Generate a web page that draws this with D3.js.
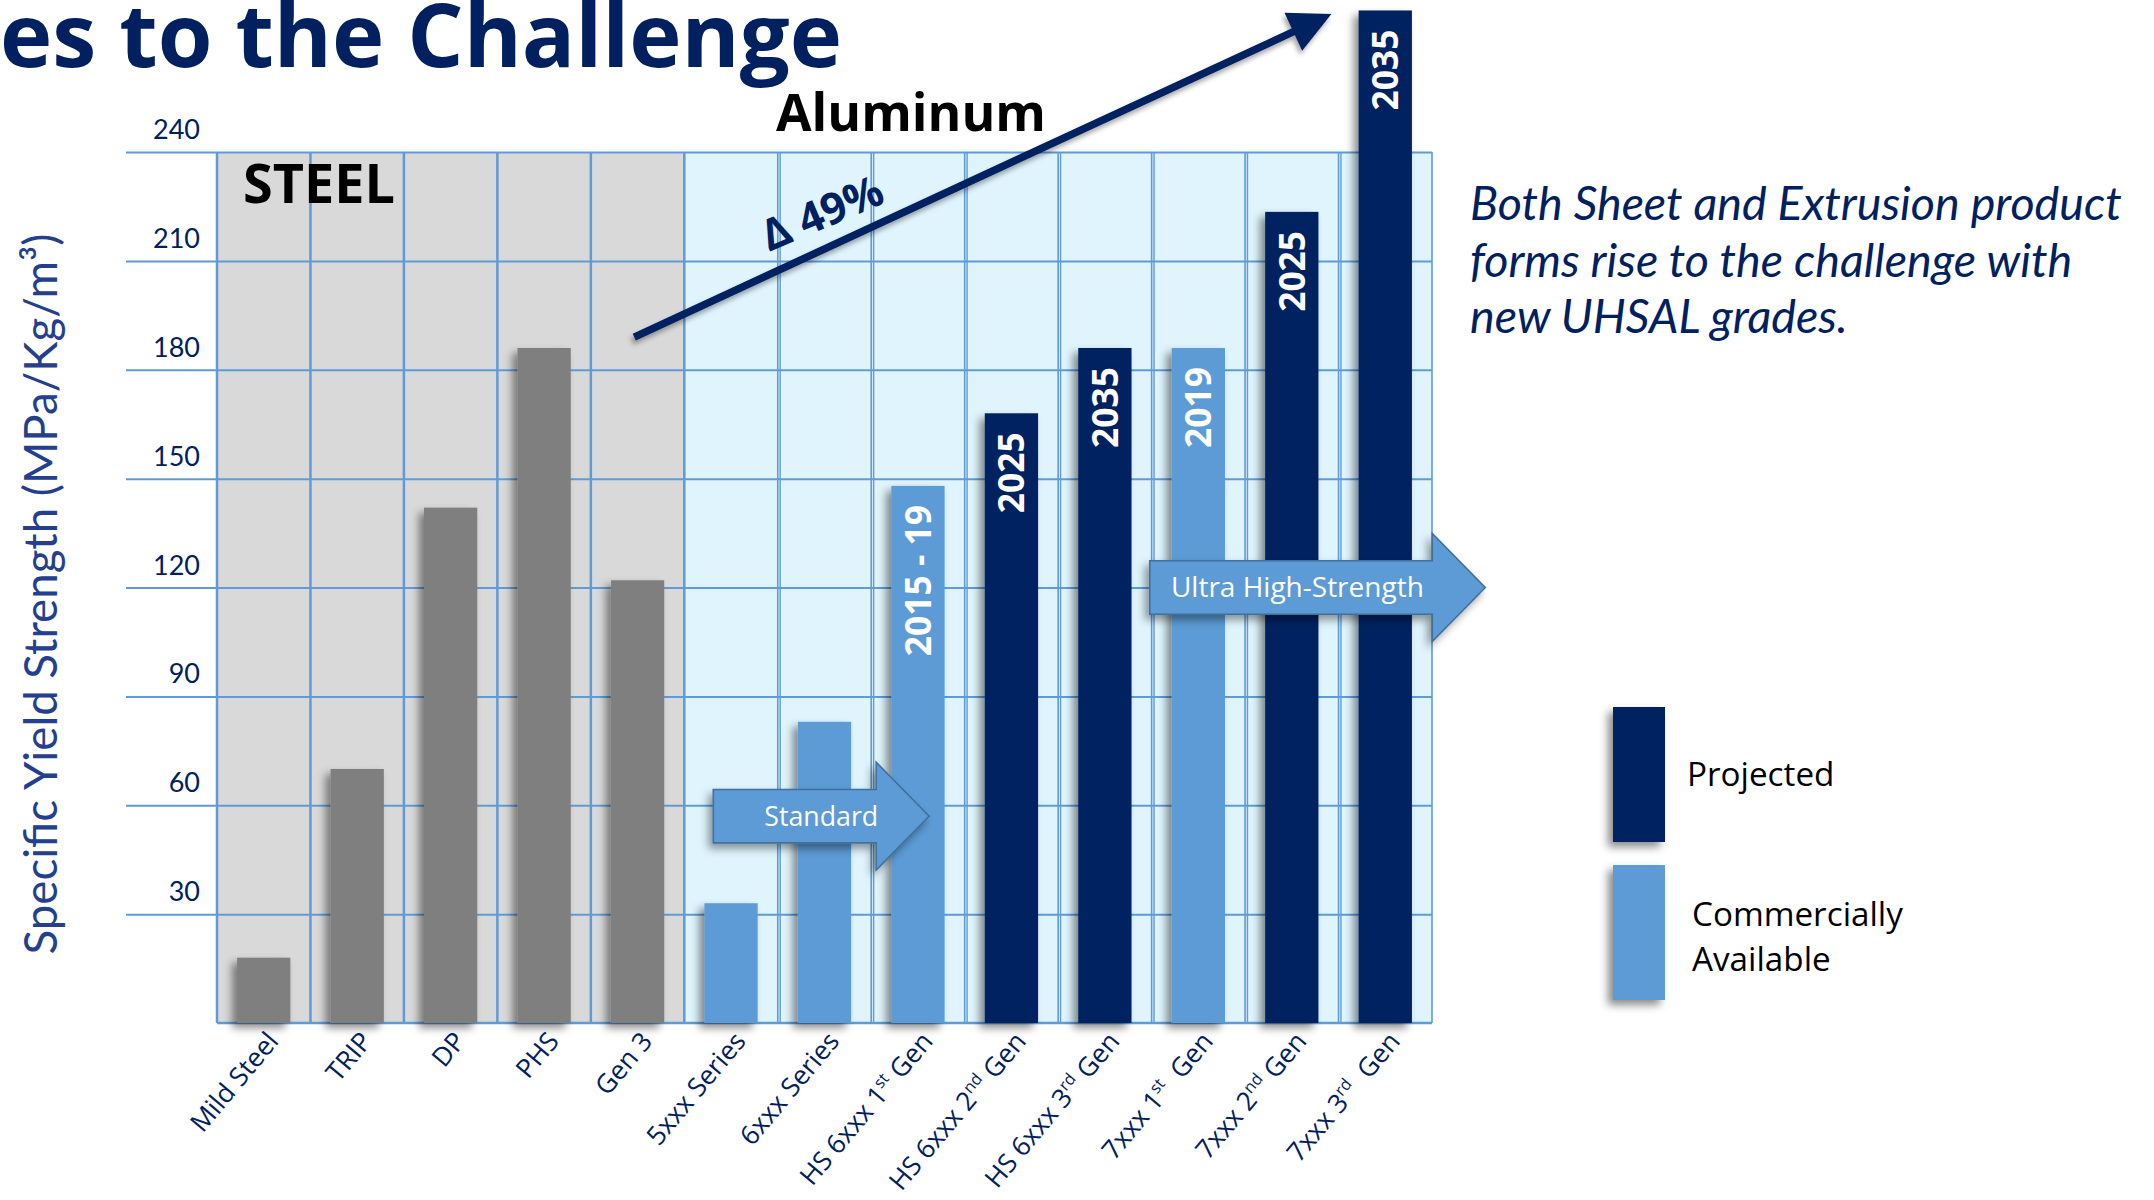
<!DOCTYPE html>
<html>
<head>
<meta charset="utf-8">
<script src="https://cdn.jsdelivr.net/npm/d3@7"></script>
<style>
  html, body { margin: 0; padding: 0; background: #ffffff; }
  svg { display: block; }
  text { white-space: pre; }
</style>
</head>
<body>
<svg id="chart" width="2154" height="1200"></svg>
<script>
// ---- data ----
const categories = [
  "Mild Steel", "TRIP", "DP", "PHS", "Gen 3",
  "5xxx Series", "6xxx Series",
  "HS 6xxx 1{st} Gen", "HS 6xxx 2{nd} Gen", "HS 6xxx 3{rd} Gen",
  "7xxx 1{st}  Gen", "7xxx 2{nd} Gen", "7xxx 3{rd}  Gen"
];
const values = [18, 70, 142, 186, 122, 33, 83, 148, 168, 186, 186, 223.5, 279];
const status = [
  "steel", "steel", "steel", "steel", "steel",
  "available", "available", "available", "projected", "projected",
  "available", "projected", "projected"
];
const periodLabels = ["", "", "", "", "", "", "", "2015 - 19", "2025", "2035", "2019", "2025", "2035"];
const yTicks = [0, 30, 60, 90, 120, 150, 180, 210, 240];
const legendItems = [
  { key: "projected", lines: ["Projected"] },
  { key: "available", lines: ["Commercially", "Available"] }
];
const noteLines = [
  "Both Sheet and Extrusion product",
  "forms rise to the challenge with",
  "new UHSAL grades."
];
const steelCount = 5;

// ---- styles ----
const colors = { steel: "#7f7f7f", available: "#5b9bd5", projected: "#002060" };
const navy = "#002060";
const gridColor = "#5f9bd6";

const svg = d3.select("#chart");
const defs = svg.append("defs");
function addShadow(id, dx, dy, sd, op) {
  const f = defs.append("filter").attr("id", id)
    .attr("x", "-60%").attr("y", "-30%").attr("width", "220%").attr("height", "160%");
  f.append("feDropShadow").attr("dx", dx).attr("dy", dy)
    .attr("stdDeviation", sd).attr("flood-color", "#000").attr("flood-opacity", op);
}
addShadow("barShadow", -5, 5, 4, 0.45);
addShadow("arrowShadow", -4, 5, 4, 0.4);
addShadow("lineShadow", -2, 4, 2.5, 0.35);

function fitWidth(sel, target) {
  const fs = parseFloat(sel.attr("font-size"));
  const len = sel.node().getComputedTextLength();
  const nfs = fs * target / len;
  sel.attr("font-size", nfs.toFixed(2));
  return nfs;
}
function measuredSize(str, family, weight, target, style) {
  const t = svg.append("text").attr("font-family", family).attr("font-weight", weight)
    .attr("font-style", style || "normal").attr("font-size", 40).text(str);
  const len = t.node().getComputedTextLength();
  t.remove();
  return 40 * target / len;
}

// ---- scales ----
const x = d3.scaleBand().domain(categories).range([217, 1432])
  .paddingInner(0.43).paddingOuter(0.215);
const y = d3.scaleLinear().domain([0, 240]).range([1023, 152]);
const step = x.step();
const x0 = x.range()[0];
const edges = d3.range(categories.length + 1).map(k => x0 + k * step);
const xEnd = edges[edges.length - 1];

// ---- plot backgrounds ----
svg.append("rect")
  .attr("x", edges[0]).attr("y", y(240))
  .attr("width", edges[steelCount] - edges[0]).attr("height", y(0) - y(240))
  .attr("fill", "#d9d9d9");
svg.append("rect")
  .attr("x", edges[steelCount]).attr("y", y(240))
  .attr("width", xEnd - edges[steelCount]).attr("height", y(0) - y(240))
  .attr("fill", "#dff4fd");

// ---- horizontal grid + tick labels (axis) ----
const axisLeftX = 126;
const yAxis = d3.axisLeft(y).tickValues(yTicks.filter(t => t > 0))
  .tickSize(-(xEnd - axisLeftX)).tickPadding(-74);
const gy = svg.append("g").attr("transform", `translate(${axisLeftX},0)`).call(yAxis);
gy.select(".domain").remove();
gy.selectAll(".tick line").attr("stroke", gridColor).attr("stroke-width", 2);
gy.selectAll(".tick text")
  .attr("fill", navy).attr("font-family", "Lato, 'Open Sans', sans-serif")
  .attr("font-size", 27).attr("dy", "-0.5em");
// baseline of the plot
svg.append("line")
  .attr("x1", edges[0]).attr("x2", xEnd).attr("y1", y(0)).attr("y2", y(0))
  .attr("stroke", gridColor).attr("stroke-width", 2.5);

// ---- vertical grid ----
svg.append("g").selectAll("line").data(edges).join("line")
  .attr("x1", d => d).attr("x2", d => d)
  .attr("y1", y(240)).attr("y2", y(0))
  .attr("stroke", gridColor)
  .attr("stroke-width", (d, i) => i <= steelCount ? 2.5 : 1.6);
// aluminum panel carries a second, slightly offset column grid
svg.append("g").selectAll("line").data(edges.slice(steelCount + 1, edges.length - 1)).join("line")
  .attr("x1", d => d + 2.4).attr("x2", d => d + 2.4)
  .attr("y1", y(240)).attr("y2", y(0))
  .attr("stroke", gridColor).attr("stroke-width", 1.4);

// ---- bars ----
const rows = categories.map((c, i) => ({ c, v: values[i], s: status[i], lab: periodLabels[i] }));
svg.append("g").selectAll("rect").data(rows).join("rect")
  .attr("x", d => x(d.c)).attr("width", x.bandwidth())
  .attr("y", d => y(d.v)).attr("height", d => y(0) - y(d.v))
  .attr("fill", d => colors[d.s])
  .attr("filter", "url(#barShadow)");

// period labels inside bars
const periodSize = measuredSize("2025", "'Open Sans', sans-serif", 700, 81);
svg.append("g").selectAll("text").data(rows.filter(d => d.lab)).join("text")
  .attr("transform", d => `translate(${x(d.c) + x.bandwidth() / 2},${y(d.v) + 19}) rotate(-90)`)
  .attr("text-anchor", "end").attr("dy", "0.36em")
  .attr("fill", "#ffffff").attr("font-family", "'Open Sans', sans-serif")
  .attr("font-weight", 700).attr("font-size", periodSize)
  .text(d => d.lab);

// ---- category labels ----
const catSize = measuredSize("Mild Steel", "'Open Sans', sans-serif", 400, 120);
const catG = svg.append("g");
rows.forEach(d => {
  const t = catG.append("text")
    .attr("transform", `translate(${x(d.c) + x.bandwidth() / 2 + 9},1036) rotate(-50)`)
    .attr("text-anchor", "end").attr("dy", "0.35em")
    .attr("fill", navy).attr("font-family", "'Open Sans', sans-serif")
    .attr("font-size", catSize);
  const parts = d.c.split(/\{|\}/);
  const shift = catSize * 0.38;
  parts.forEach((p, i) => {
    if (!p) return;
    const sup = i % 2 === 1;
    const ts = t.append("tspan").text(p);
    if (sup) {
      ts.attr("font-size", catSize * 0.62).attr("dy", -shift);
    } else if (i > 0) {
      ts.attr("dy", shift);
    }
  });
});

// ---- growth arrow ----
const aStart = [edges[4] + 0.465 * step, y(189)];
const aTip = [edges[11] + 0.924 * step, y(278)];
const ang = Math.atan2(aTip[1] - aStart[1], aTip[0] - aStart[0]);
const headLen = 42, headHalf = 21;
const base = [aTip[0] - headLen * Math.cos(ang), aTip[1] - headLen * Math.sin(ang)];
const growth = svg.append("g").attr("filter", "url(#lineShadow)");
growth.append("line")
  .attr("x1", aStart[0]).attr("y1", aStart[1]).attr("x2", base[0] + 2 * Math.cos(ang)).attr("y2", base[1] + 2 * Math.sin(ang))
  .attr("stroke", navy).attr("stroke-width", 7.5);
growth.append("path")
  .attr("d", d3.line()([
    aTip,
    [base[0] - headHalf * Math.sin(ang), base[1] + headHalf * Math.cos(ang)],
    [base[0] + headHalf * Math.sin(ang), base[1] - headHalf * Math.cos(ang)]
  ]) + "Z")
  .attr("fill", navy);
const deltaText = svg.append("text")
  .attr("transform", "translate(822,213) rotate(-23)")
  .attr("text-anchor", "middle").attr("dy", "0.35em")
  .attr("fill", navy).attr("font-family", "'Open Sans', sans-serif")
  .attr("font-weight", 700).attr("font-size", 40).text("\u0394 49%");
fitWidth(deltaText, 128);

// ---- block arrows ----
function blockArrow(xa, xt, yc, headLength, bodyHalf, headHalfH) {
  const xh = xt - headLength;
  return d3.line()([
    [xa, yc - bodyHalf], [xh, yc - bodyHalf], [xh, yc - headHalfH], [xt, yc],
    [xh, yc + headHalfH], [xh, yc + bodyHalf], [xa, yc + bodyHalf]
  ]) + "Z";
}
const blockArrows = [
  { label: "Standard", xa: edges[5] + 0.31 * step, xt: edges[7] + 0.62 * step, v: 57, textW: 114, cx: 0.5 },
  { label: "Ultra High-Strength", xa: edges[10] - 0.02 * step, xt: edges[13] + 0.57 * step, v: 120, textW: 253, cx: 0.44 }
];
blockArrows.forEach(b => {
  const yc = y(b.v);
  svg.append("path")
    .attr("d", blockArrow(b.xa, b.xt, yc, 53, 26.7, 54))
    .attr("fill", "#5b9bd5").attr("stroke", "#41719c").attr("stroke-width", 1.6)
    .attr("filter", "url(#arrowShadow)");
  const t = svg.append("text")
    .attr("x", b.xa + (b.xt - b.xa) * b.cx).attr("y", yc)
    .attr("text-anchor", "middle").attr("dy", "0.35em")
    .attr("fill", "#ffffff").attr("font-family", "'Open Sans', sans-serif")
    .attr("font-size", 30).text(b.label);
  fitWidth(t, b.textW);
});

// ---- headings ----
const title = svg.append("text")
  .attr("x", 0).attr("y", 67)
  .attr("fill", navy).attr("font-family", "'Open Sans', sans-serif")
  .attr("font-weight", 700).attr("font-size", 84)
  .text("es to the Challenge");
fitWidth(title, 842);

const alu = svg.append("text")
  .attr("x", 776).attr("y", 131)
  .attr("fill", "#000000").attr("font-family", "'Open Sans', sans-serif")
  .attr("font-weight", 700).attr("font-size", 56).text("Aluminum");
fitWidth(alu, 270);

const steel = svg.append("text")
  .attr("x", 243).attr("y", 203)
  .attr("fill", "#000000").attr("font-family", "'Open Sans', sans-serif")
  .attr("font-weight", 700).attr("font-size", 56).text("STEEL");
fitWidth(steel, 152);

// ---- y axis title ----
const yTitle = svg.append("text")
  .attr("transform", "translate(41,594) rotate(-90)")
  .attr("text-anchor", "middle").attr("dy", "0.35em")
  .attr("fill", "#243f8e").attr("font-family", "Lato, 'Open Sans', sans-serif")
  .attr("font-size", 44).text("Specific Yield Strength (MPa/Kg/m\u00b3)");
fitWidth(yTitle, 721);

// ---- note ----
const noteSize = measuredSize(noteLines[0], "Lato, sans-serif", 400, 652, "italic");
svg.append("g").selectAll("text").data(noteLines).join("text")
  .attr("x", 1470).attr("y", (d, i) => 220 + i * 56.7)
  .attr("fill", navy).attr("font-family", "Lato, sans-serif")
  .attr("font-style", "italic").attr("font-size", noteSize)
  .text(d => d);

// ---- legend ----
const legendTop = [707, 865];
const legendTextY = [[786], [926, 971]];
const legendSize = measuredSize("Commercially", "'Open Sans', sans-serif", 400, 211);
legendItems.forEach((item, i) => {
  svg.append("rect")
    .attr("x", 1613).attr("y", legendTop[i]).attr("width", 52).attr("height", 135)
    .attr("fill", colors[item.key]).attr("filter", "url(#barShadow)");
  item.lines.forEach((ln, j) => {
    svg.append("text")
      .attr("x", i === 0 ? 1687 : 1692).attr("y", legendTextY[i][j])
      .attr("fill", "#000000").attr("font-family", "'Open Sans', sans-serif")
      .attr("font-size", legendSize).text(ln);
  });
});
</script>
</body>
</html>
